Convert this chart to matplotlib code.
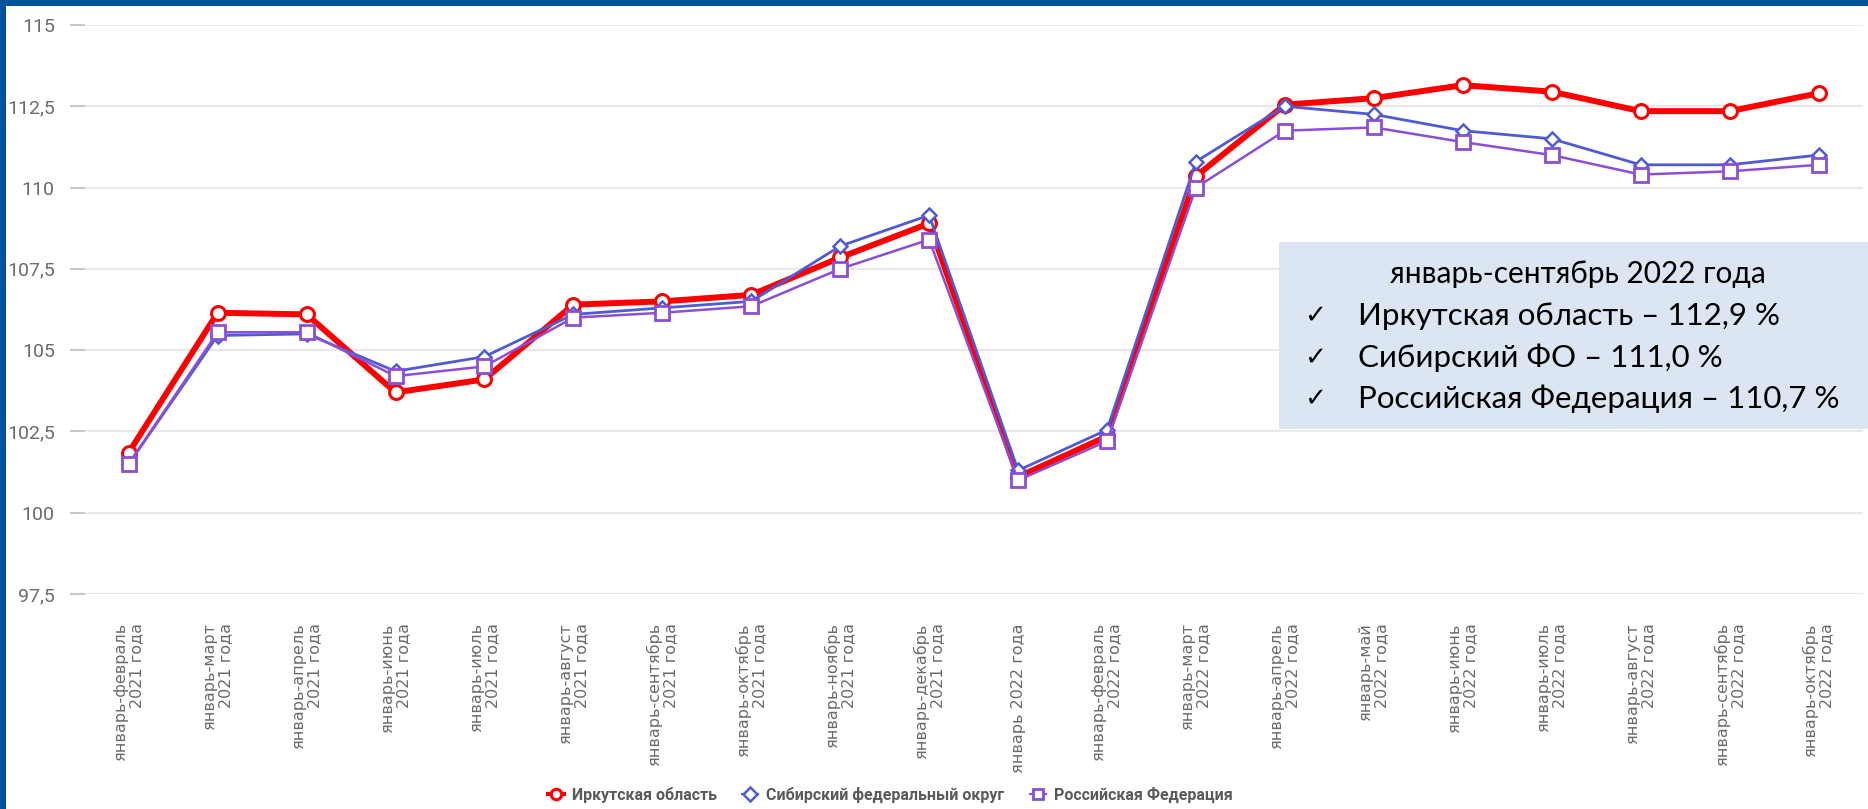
import matplotlib
matplotlib.use("Agg")
import matplotlib.pyplot as plt
from matplotlib import font_manager
from matplotlib.patches import Rectangle

# периоды (подписи оси X)
periods = [
    "январь-февраль\n2021 года", "январь-март\n2021 года", "январь-апрель\n2021 года",
    "январь-июнь\n2021 года", "январь-июль\n2021 года", "январь-август\n2021 года",
    "январь-сентябрь\n2021 года", "январь-октябрь\n2021 года", "январь-ноябрь\n2021 года",
    "январь-декабрь\n2021 года", "январь 2022 года", "январь-февраль\n2022 года",
    "январь-март\n2022 года", "январь-апрель\n2022 года", "январь-май\n2022 года",
    "январь-июнь\n2022 года", "январь-июль\n2022 года", "январь-август\n2022 года",
    "январь-сентябрь\n2022 года", "январь-октябрь\n2022 года",
]
irkutsk = [101.85, 106.15, 106.1, 103.7, 104.1, 106.4, 106.5, 106.7, 107.85, 108.9,
           101.1, 102.35, 110.35, 112.55, 112.75, 113.15, 112.95, 112.35, 112.35, 112.9]
sfo = [101.5, 105.45, 105.5, 104.35, 104.8, 106.1, 106.3, 106.5, 108.2, 109.15,
       101.3, 102.55, 110.8, 112.5, 112.25, 111.75, 111.5, 110.7, 110.7, 111.0]
rf = [101.5, 105.55, 105.55, 104.2, 104.5, 106.0, 106.15, 106.35, 107.5, 108.4,
      101.0, 102.2, 110.0, 111.75, 111.85, 111.4, 111.0, 110.4, 110.5, 110.7]
series_names = ["Иркутская область", "Сибирский федеральный округ", "Российская Федерация"]
yticks = [97.5, 100, 102.5, 105, 107.5, 110, 112.5, 115]
box_title = "январь-сентябрь 2022 года"
box_lines = ["Иркутская область – 112,9 %", "Сибирский ФО – 111,0 %",
             "Российская Федерация – 110,7 %"]

names = {f.name for f in font_manager.fontManager.ttflist}
narrow = "Liberation Sans Narrow" if "Liberation Sans Narrow" in names else "Roboto"

W, H = 1868, 809
fig = plt.figure(figsize=(W / 100, H / 100), dpi=100)
fig.patch.set_facecolor("white")
ax = fig.add_axes([70 / W, 1 - 594 / H, (1863 - 70) / W, (594 - 25) / H])

x = list(range(len(periods)))
ax.plot(x, irkutsk, color="#ff0000", lw=4.3, marker="o", ms=10, mfc="white",
        mec="#ff0000", mew=2.2, label=series_names[0], zorder=3)
ax.plot(x, sfo, color="#4f5bd5", lw=2.0, marker="D", ms=7.5, mfc="white",
        mec="#4f5bd5", mew=1.8, label=series_names[1], zorder=4)
ax.plot(x, rf, color="#8a4fd6", lw=1.8, marker="s", ms=10, mfc="white",
        mec="#8a4fd6", mew=2.0, label=series_names[2], zorder=5)

ax.set_xlim(-0.66, 19.5)
ax.set_ylim(97.5, 115)
ax.set_yticks(yticks)
ax.set_yticklabels([("%g" % v).replace(".", ",") for v in yticks],
                   family=narrow, fontsize=14, color="#6b6b6b")
ax.tick_params(axis="y", direction="in", length=11, width=1.5, color="#c8c8c8", pad=11)
ax.grid(axis="y", color="#e8e8e8", lw=1.5, zorder=0)
ax.axhline(97.5, color="#c4c4c4", lw=1.5, zorder=1)
for s in ax.spines.values():
    s.set_visible(False)

ax.set_xticks(x)
ax.set_xticklabels(periods, rotation=90, ha="center", va="top", multialignment="right",
                   fontsize=11.5, color="#6b6b6b", linespacing=1.1)
ax.tick_params(axis="x", length=0, pad=21)

leg = fig.legend(loc="center", bbox_to_anchor=(890 / W, 1 - 795 / H), ncol=3,
                 frameon=False, handlelength=1.0, columnspacing=1.6, handletextpad=0.5,
                 prop={"family": narrow, "weight": "bold", "size": 11.5})
for t in leg.get_texts():
    t.set_color("#5a5a5a")
for h in leg.legend_handles:
    h.set_markersize(7.5)
    h.set_linewidth(3 if h.get_color() == "#ff0000" else 1.5)

# подпись в прямоугольнике
fig.patches.append(Rectangle((1279 / W, 1 - 429 / H), (W - 1279) / W, (429 - 242) / H,
                             transform=fig.transFigure, facecolor="#dce6f2",
                             edgecolor="none", zorder=6))
fig.text(1578 / W, 1 - 274 / H, box_title, ha="center", va="center", fontsize=21.5,
         family=["Lato", "DejaVu Sans"], color="black", zorder=7)
for i, line in enumerate(box_lines):
    yy = 1 - (316 + i * 41.5) / H
    fig.text(1304 / W, yy, "✓", ha="left", va="center", fontsize=19,
             family="DejaVu Sans", color="black", zorder=7)
    fig.text(1358 / W, yy, line, ha="left", va="center", fontsize=22.5,
             family=["Lato", "DejaVu Sans"], color="black", zorder=7)

# синяя рамка слева и сверху
fig.patches.append(Rectangle((0, 0), 6 / W, 1, transform=fig.transFigure,
                             facecolor="#00559a", edgecolor="none", zorder=8))
fig.patches.append(Rectangle((0, 1 - 6 / H), 1, 6 / H, transform=fig.transFigure,
                             facecolor="#00559a", edgecolor="none", zorder=8))

fig.savefig("out.png", dpi=100)
